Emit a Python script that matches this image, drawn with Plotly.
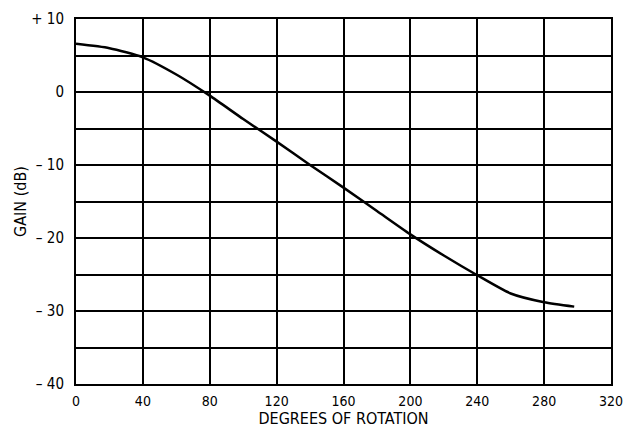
import plotly.graph_objects as go

# Data
degrees = [0, 20, 40, 60, 80, 100, 120, 140, 160, 180, 200, 220, 240, 260, 280, 298]
gain_db = [6.6, 6.0, 4.75, 2.4, -0.5, -3.7, -6.8, -10.0, -13.1, -16.3, -19.5, -22.4, -25.1, -27.6, -28.8, -29.4]

x_tickvals = [0, 40, 80, 120, 160, 200, 240, 280, 320]
x_ticktext = ["0", "40", "80", "120", "160", "200", "240", "280", "320"]
y_tickvals = [-40, -35, -30, -25, -20, -15, -10, -5, 0, 5, 10]
y_ticktext = ["\u2013 40", "", "\u2013 30", "", "\u2013 20", "", "\u2013 10", "", "0", "", "+ 10"]

FONT = "Liberation Sans Narrow, DejaVu Sans Condensed, Arial, sans-serif"

fig = go.Figure()
fig.add_trace(go.Scatter(
    x=degrees, y=gain_db, mode="lines",
    line=dict(color="black", width=2.5, shape="spline", smoothing=0.6),
    hoverinfo="skip", showlegend=False,
))

fig.update_layout(
    width=624, height=432,
    margin=dict(l=76, r=13, t=19, b=48, autoexpand=False),
    paper_bgcolor="white", plot_bgcolor="white",
    font=dict(family=FONT, color="black", size=15),
)
fig.update_xaxes(
    range=[0, 320], tickvals=x_tickvals, ticktext=x_ticktext,
    showgrid=True, gridcolor="black", gridwidth=2,
    showline=True, linecolor="black", linewidth=2, mirror=True,
    ticks="", ticklabelstandoff=3, zeroline=False, automargin=False,
    ticklabeloverflow="allow",
    title=dict(text="DEGREES OF ROTATION", font=dict(size=16, family=FONT), standoff=5),
    tickfont=dict(size=14, family=FONT),
)
fig.update_yaxes(
    range=[-40, 10], tickvals=y_tickvals, ticktext=y_ticktext,
    showgrid=True, gridcolor="black", gridwidth=2,
    showline=True, linecolor="black", linewidth=2, mirror=True,
    ticks="", ticklabelstandoff=7, zeroline=False, automargin=False,
    ticklabeloverflow="allow",
    title=dict(text="GAIN (dB)", font=dict(size=16, family=FONT), standoff=1),
    tickfont=dict(size=15, family=FONT),
)

fig.write_html("out.html", config={"displayModeBar": False},
               post_script="document.body.style.margin='0';")
